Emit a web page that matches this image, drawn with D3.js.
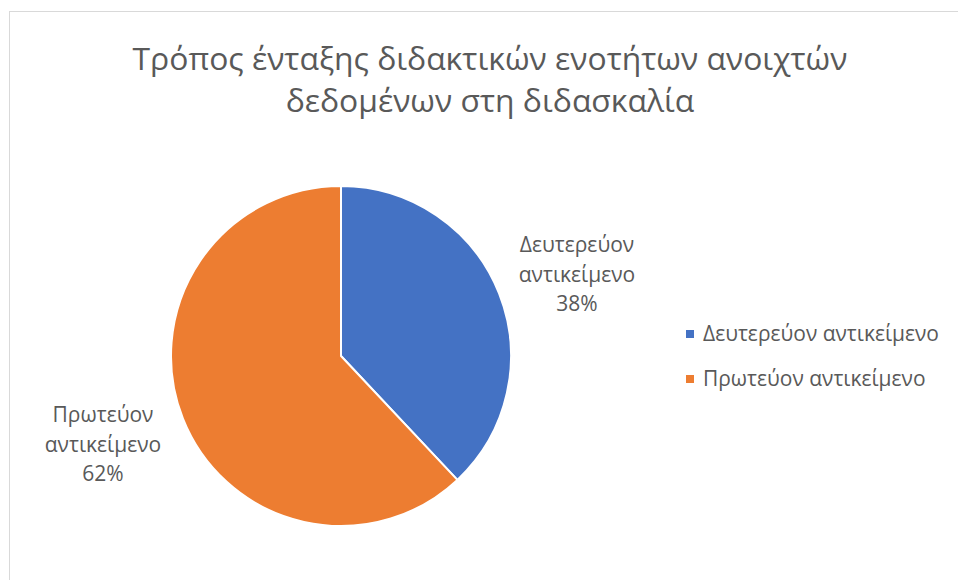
<!DOCTYPE html>
<html><head><meta charset="utf-8">
<script src="https://cdn.jsdelivr.net/npm/d3@7"></script>
<style>body{margin:0;background:#fff}svg{display:block}</style>
</head><body>
<script>
const categories = ["Δευτερεύον αντικείμενο", "Πρωτεύον αντικείμενο"];
const values = [38, 62];
const labelLines = [["Δευτερεύον", "αντικείμενο", "38%"], ["Πρωτεύον", "αντικείμενο", "62%"]];
const titleLines = ["Τρόπος ένταξης διδακτικών ενοτήτων ανοιχτών", "δεδομένων στη διδασκαλία"];
const colors = ["#4472C4", "#ED7D31"];

const W = 958, H = 580;
const font = "'Open Sans', 'Noto Sans', sans-serif";
const textColor = "#595959";
const svg = d3.select("body").append("svg").attr("width", W).attr("height", H);

svg.append("rect").attr("x", 9.5).attr("y", 11.5).attr("width", W).attr("height", H)
  .attr("fill", "#fff").attr("stroke", "#d9d9d9").attr("stroke-width", 1);

function fitSize(txt, target) {
  const probe = svg.append("text").attr("font-family", font).attr("font-size", 20).text(txt);
  const w = probe.node().getComputedTextLength();
  probe.remove();
  return 20 * target / w;
}

// title
const fs = fitSize(titleLines[0], 715);
titleLines.forEach((s, i) => svg.append("text").attr("x", 490).attr("y", [70, 112][i])
  .attr("text-anchor", "middle").attr("font-family", font).attr("font-size", fs)
  .attr("fill", textColor).text(s));

// pie
const cx = 341, cy = 356, r = 170;
const pie = d3.pie().sort(null).value(d => d)(values);
const arc = d3.arc().innerRadius(0).outerRadius(r);
const g = svg.append("g").attr("transform", `translate(${cx},${cy})`);
g.selectAll("path").data(pie).join("path")
  .attr("d", arc).attr("fill", (d, i) => colors[i])
  .attr("stroke", "#fff").attr("stroke-width", 2).attr("stroke-linejoin", "round");

// data labels
const lfs = Math.min(21, fitSize("Δευτερεύον", 116));
const labelPos = [[577, [252, 282, 311]], [103, [422, 452, 481]]];
labelLines.forEach((lines, i) => {
  const [x, ys] = labelPos[i];
  lines.forEach((s, j) => {
    svg.append("text").attr("x", x).attr("y", ys[j]).attr("text-anchor", "middle")
      .attr("font-family", font).attr("font-size", lfs).attr("fill", textColor).text(s);
  });
});

// legend
const gfs = Math.min(21, fitSize(categories[0], 236));
const lg = svg.append("g");
categories.forEach((c, i) => {
  const y = 334 + i * 45;
  lg.append("rect").attr("x", 686).attr("y", y - 4).attr("width", 8).attr("height", 8).attr("fill", colors[i]);
  lg.append("text").attr("x", 703).attr("y", y + 7).attr("font-family", font)
    .attr("font-size", gfs).attr("fill", textColor).text(c);
});
</script>
</body></html>
